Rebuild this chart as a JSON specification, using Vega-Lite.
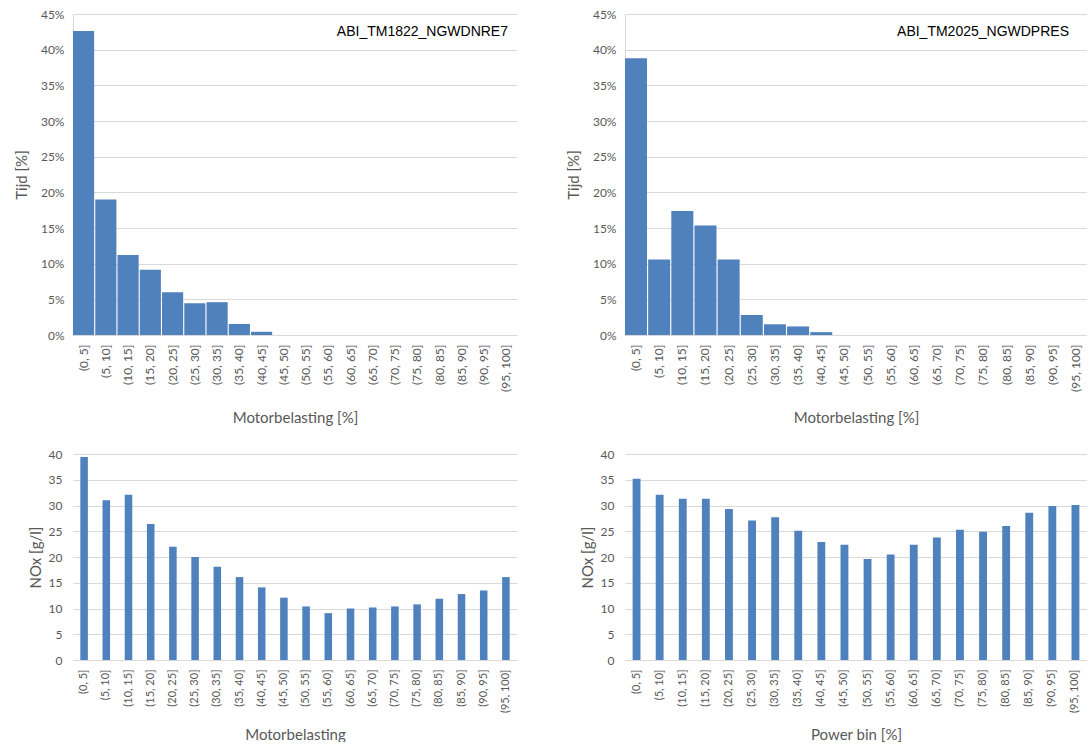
{
  "$schema": "https://vega.github.io/schema/vega-lite/v6.json",
  "padding": {"left": 14, "top": 8, "right": 0, "bottom": 0},
  "background": "white",
  "datasets": {
    "bins": [
      {"bin": "(0, 5]", "tijd1": 42.6, "tijd2": 38.8, "nox1": 39.4, "nox2": 35.2},
      {"bin": "(5, 10]", "tijd1": 19.0, "tijd2": 10.6, "nox1": 31.0, "nox2": 32.1},
      {"bin": "(10, 15]", "tijd1": 11.2, "tijd2": 17.4, "nox1": 32.1, "nox2": 31.3},
      {"bin": "(15, 20]", "tijd1": 9.15, "tijd2": 15.35, "nox1": 26.4, "nox2": 31.3},
      {"bin": "(20, 25]", "tijd1": 6.0, "tijd2": 10.6, "nox1": 22.0, "nox2": 29.3},
      {"bin": "(25, 30]", "tijd1": 4.45, "tijd2": 2.8, "nox1": 20.0, "nox2": 27.1},
      {"bin": "(30, 35]", "tijd1": 4.6, "tijd2": 1.5, "nox1": 18.1, "nox2": 27.7},
      {"bin": "(35, 40]", "tijd1": 1.55, "tijd2": 1.2, "nox1": 16.1, "nox2": 25.1},
      {"bin": "(40, 45]", "tijd1": 0.45, "tijd2": 0.4, "nox1": 14.1, "nox2": 22.9},
      {"bin": "(45, 50]", "tijd1": 0, "tijd2": 0, "nox1": 12.1, "nox2": 22.4},
      {"bin": "(50, 55]", "tijd1": 0, "tijd2": 0, "nox1": 10.4, "nox2": 19.6},
      {"bin": "(55, 60]", "tijd1": 0, "tijd2": 0, "nox1": 9.1, "nox2": 20.5},
      {"bin": "(60, 65]", "tijd1": 0, "tijd2": 0, "nox1": 10.0, "nox2": 22.4},
      {"bin": "(65, 70]", "tijd1": 0, "tijd2": 0, "nox1": 10.2, "nox2": 23.8},
      {"bin": "(70, 75]", "tijd1": 0, "tijd2": 0, "nox1": 10.4, "nox2": 25.3},
      {"bin": "(75, 80]", "tijd1": 0, "tijd2": 0, "nox1": 10.8, "nox2": 24.9},
      {"bin": "(80, 85]", "tijd1": 0, "tijd2": 0, "nox1": 11.9, "nox2": 26.0},
      {"bin": "(85, 90]", "tijd1": 0, "tijd2": 0, "nox1": 12.8, "nox2": 28.6},
      {"bin": "(90, 95]", "tijd1": 0, "tijd2": 0, "nox1": 13.5, "nox2": 29.9},
      {"bin": "(95, 100]", "tijd1": 0, "tijd2": 0, "nox1": 16.1, "nox2": 30.1}
    ]
  },
  "data": {"name": "bins"},
  "columns": 2,
  "bounds": "flush",
  "spacing": {"row": 119, "column": 108},
  "concat": [
    {
      "width": 444, "height": 321,
      "title": {"text": "ABI_TM1822_NGWDNRE7", "anchor": "end", "offset": -31, "dx": -9, "font": "Liberation Sans", "fontSize": 14, "fontWeight": "normal", "color": "#000000"},
      "mark": {"type": "bar", "color": "#4f81bd"},
      "encoding": {
        "x": {"field": "bin", "type": "nominal", "sort": null, "scale": {"paddingInner": 0.05, "paddingOuter": 0},
              "axis": {"title": "Motorbelasting [%]", "labelAngle": -90, "labelPadding": 9, "minExtent": 48, "maxExtent": 48, "titlePadding": 27, "domain": true, "domainColor": "#d9d9d9"}},
        "y": {"field": "tijd1", "type": "quantitative", "scale": {"domain": [0, 45]},
              "axis": {"title": "Tijd [%]", "values": [0, 5, 10, 15, 20, 25, 30, 35, 40, 45], "labelExpr": "datum.value + '%'", "domain": true, "domainColor": "#d9d9d9", "labelPadding": 9, "minExtent": 30, "maxExtent": 30, "titlePadding": 14}}
      }
    },
    {
      "width": 462, "height": 321,
      "title": {"text": "ABI_TM2025_NGWDPRES", "anchor": "end", "offset": -31, "dx": -18, "font": "Liberation Sans", "fontSize": 14, "fontWeight": "normal", "color": "#000000"},
      "mark": {"type": "bar", "color": "#4f81bd"},
      "encoding": {
        "x": {"field": "bin", "type": "nominal", "sort": null, "scale": {"paddingInner": 0.05, "paddingOuter": 0},
              "axis": {"title": "Motorbelasting [%]", "labelAngle": -90, "labelPadding": 9, "minExtent": 48, "maxExtent": 48, "titlePadding": 27, "domain": true, "domainColor": "#d9d9d9"}},
        "y": {"field": "tijd2", "type": "quantitative", "scale": {"domain": [0, 45]},
              "axis": {"title": "Tijd [%]", "values": [0, 5, 10, 15, 20, 25, 30, 35, 40, 45], "labelExpr": "datum.value + '%'", "domain": true, "domainColor": "#d9d9d9", "labelPadding": 9, "minExtent": 30, "maxExtent": 30, "titlePadding": 14}}
      }
    },
    {
      "width": 444, "height": 206,
      "mark": {"type": "bar", "color": "#4f81bd"},
      "encoding": {
        "x": {"field": "bin", "type": "nominal", "sort": null, "scale": {"paddingInner": 0.66, "paddingOuter": 0.33},
              "axis": {"title": "Motorbelasting", "labelAngle": -90, "labelPadding": 9, "labelFontSize": 11, "minExtent": 56, "maxExtent": 56, "titlePadding": 11, "domain": true, "domainColor": "#d9d9d9"}},
        "y": {"field": "nox1", "type": "quantitative", "scale": {"domain": [0, 40]},
              "axis": {"title": "NOx [g/l]", "values": [0, 5, 10, 15, 20, 25, 30, 35, 40], "domain": false, "labelPadding": 11, "minExtent": 25, "maxExtent": 25, "titlePadding": 5}}
      }
    },
    {
      "width": 462, "height": 206,
      "mark": {"type": "bar", "color": "#4f81bd"},
      "encoding": {
        "x": {"field": "bin", "type": "nominal", "sort": null, "scale": {"paddingInner": 0.66, "paddingOuter": 0.33},
              "axis": {"title": "Power bin [%]", "labelAngle": -90, "labelPadding": 9, "labelFontSize": 11, "minExtent": 56, "maxExtent": 56, "titlePadding": 11, "domain": true, "domainColor": "#d9d9d9"}},
        "y": {"field": "nox2", "type": "quantitative", "scale": {"domain": [0, 40]},
              "axis": {"title": "NOx [g/l]", "values": [0, 5, 10, 15, 20, 25, 30, 35, 40], "domain": false, "labelPadding": 11, "minExtent": 25, "maxExtent": 25, "titlePadding": 5}}
      }
    }
  ],
  "config": {
    "view": {"stroke": null},
    "axis": {
      "labelFont": "Lato", "labelFontSize": 12, "labelColor": "#595959",
      "titleFont": "Lato", "titleFontSize": 15, "titleFontWeight": "normal", "titleColor": "#595959",
      "gridColor": "#d9d9d9", "gridWidth": 1, "ticks": false
    },
    "axisX": {"grid": false}
  }
}
